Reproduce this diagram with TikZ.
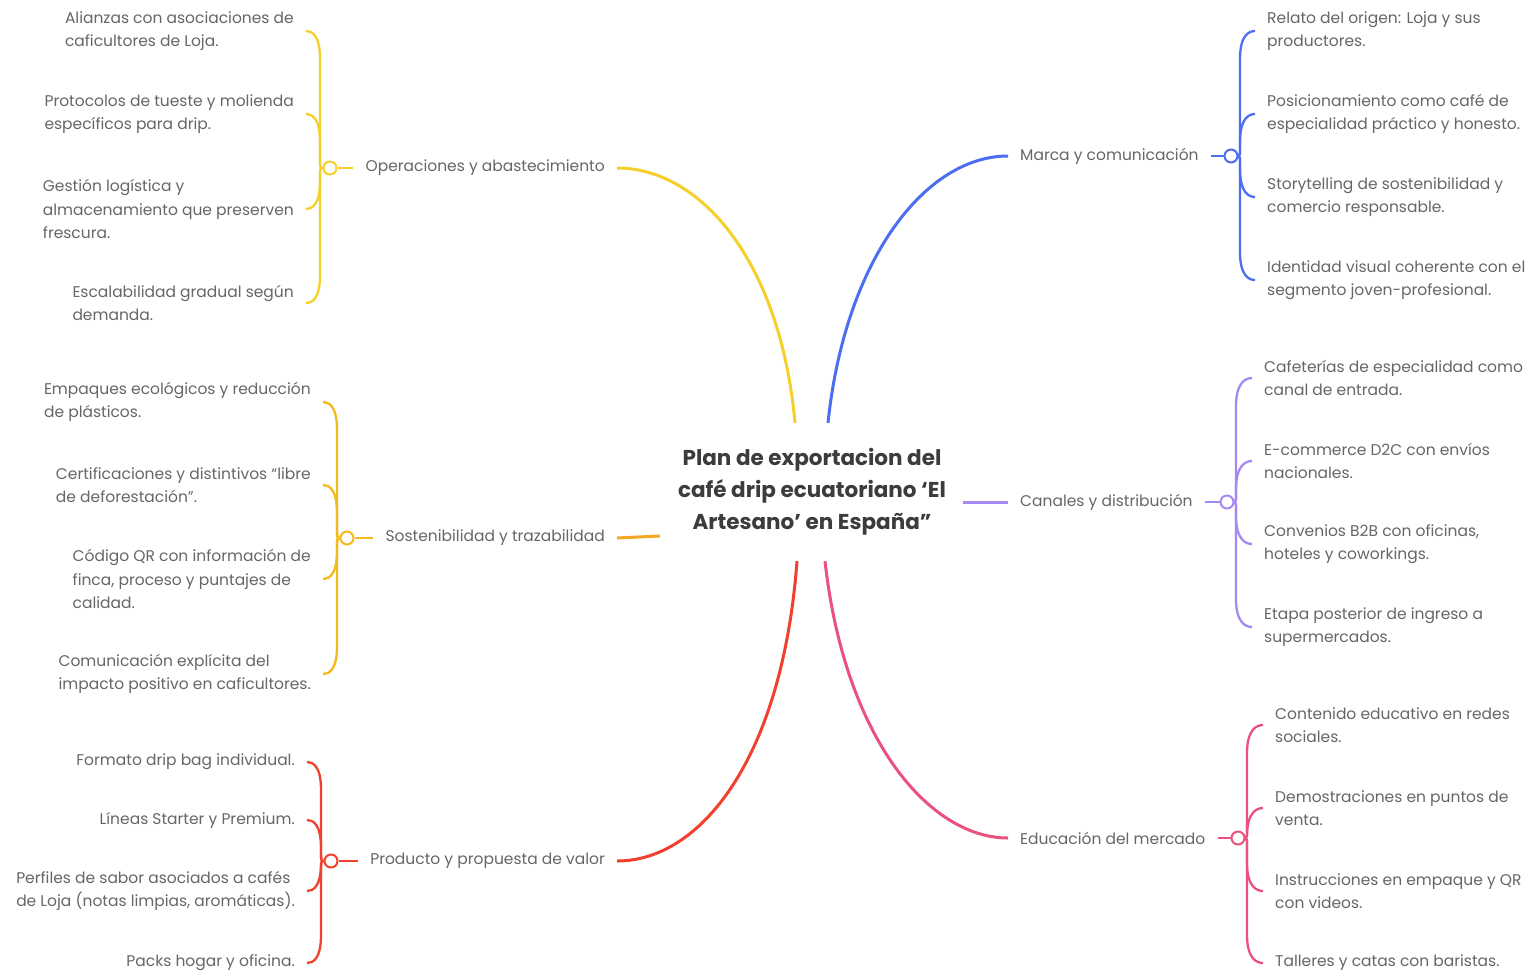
\documentclass[tikz,border=0pt]{standalone}
\usepackage{fontspec}
\setmainfont{Poppins}
\usetikzlibrary{calc}
\definecolor{cyel}{HTML}{F5CF2A}
\definecolor{csos}{HTML}{F2BA1A}
\definecolor{csosc}{HTML}{F5A623}
\definecolor{cred}{HTML}{F2402E}
\definecolor{cblu}{HTML}{4D6EF0}
\definecolor{cpur}{HTML}{A688F2}
\definecolor{cpnk}{HTML}{E9527F}
\definecolor{ctxt}{HTML}{666666}
\definecolor{ctit}{HTML}{3C3C3C}
\newcommand\legL[5]{\draw[#5] (#1.west) .. controls (#2) .. ($(#2)+(0,{(#4)*14})$) -- ($(#2|-#3.east)+(0,{0-(#4)*28})$) .. controls ($(#2|-#3.east)+(0,{0-(#4)*4})$) and ($(#3.east)+(6,0)$) .. (#3.east);}
\newcommand\legR[5]{\draw[#5] (#1.east) .. controls (#2) .. ($(#2)+(0,{(#4)*14})$) -- ($(#2|-#3.west)+(0,{0-(#4)*28})$) .. controls ($(#2|-#3.west)+(0,{0-(#4)*4})$) and ($(#3.west)+(-6,0)$) .. (#3.west);}
\begin{document}
\begin{tikzpicture}[x=1pt,y=-1pt,
  leafL/.style={anchor=east,align=left,inner xsep=12pt,inner ysep=2pt,text=ctxt,font=\fontsize{15.5}{23.5}\selectfont},
  leafR/.style={anchor=west,align=left,inner xsep=12pt,inner ysep=2pt,text=ctxt,font=\fontsize{15.5}{23.5}\selectfont},
  lab/.style={inner xsep=12pt,inner ysep=3pt,text=ctxt,font=\fontsize{15.5}{20}\selectfont},
  knot/.style={circle,draw=#1,fill=white,line width=2pt,minimum size=13pt,inner sep=0pt},
  main/.style={draw=#1,line width=3pt},
  leg/.style={draw=#1,line width=2.3pt},
  title/.style={align=center,text=ctit,font=\fontsize{21.5}{32}\selectfont\bfseries,minimum width=298pt,minimum height=138pt,inner sep=0pt}]
\useasboundingbox[fill=white] (0,0) rectangle (1530,975);

% centre
\node[title] (c) at (812,492) {Plan de exportacion del\\café drip ecuatoriano ‘El\\Artesano’ en España”};
\coordinate (cy) at ([xshift=-17pt]c.north);
\coordinate (cb) at ([xshift=16pt]c.north);
\coordinate (cr) at ([xshift=-15pt]c.south);
\coordinate (cp) at ([xshift=13pt]c.south);
\coordinate (cs) at ($(c.west)+(-3,44)$);
\coordinate (cc) at ($(c.east)+(2,10)$);

% branch labels
\node[lab,anchor=east] (op) at (617,168) {Operaciones y abastecimiento};
\node[lab,anchor=east] (so) at (617,538) {Sostenibilidad y trazabilidad};
\node[lab,anchor=east] (pr) at (617,861) {Producto y propuesta de valor};
\node[lab,anchor=west] (mk) at (1008,156) {Marca y comunicación};
\node[lab,anchor=west] (ca) at (1008,502) {Canales y distribución};
\node[lab,anchor=west] (ed) at (1008,838) {Educación del mercado};

% main connectors
\draw[main=cyel] (cy) .. controls (780,260) and (700,168) .. (op.east);
\draw[main=cblu] (cb) .. controls (845,260) and (925,156) .. (mk.west);
\draw[main=cred] (cr) .. controls (782,760) and (700,861) .. (pr.east);
\draw[main=cpnk] (cp) .. controls (845,740) and (930,838) .. (ed.west);
\draw[main=csosc] (cs) -- (so.east);
\draw[main=cpur] (cc) -- (ca.west);

% knots
\node[knot=cyel] (k1) at (330,168) {};
\node[knot=csos] (k2) at (347,538) {};
\node[knot=cred] (k3) at (331,861) {};
\node[knot=cblu] (k4) at (1231,156) {};
\node[knot=cpur] (k5) at (1227,502) {};
\node[knot=cpnk] (k6) at (1238,838) {};
\draw[leg=cyel] (op.west) -- (k1.east);
\draw[leg=csos] (so.west) -- (k2.east);
\draw[leg=cred] (pr.west) -- (k3.east);
\draw[leg=cblu] (mk.east) -- (k4.west);
\draw[leg=cpur] (ca.east) -- (k5.west);
\draw[leg=cpnk] (ed.east) -- (k6.west);
\coordinate (s1) at (320,168);
\coordinate (s2) at (337,538);
\coordinate (s3) at (321,861);
\coordinate (s4) at (1240,156);
\coordinate (s5) at (1236,502);
\coordinate (s6) at (1247,838);

% leaves: operaciones
\node[leafL] (a1) at (306,31) {Alianzas con asociaciones de\\caficultores de Loja.};
\node[leafL] (a2) at (306,114) {Protocolos de tueste y molienda\\específicos para drip.};
\node[leafL] (a3) at (306,209) {Gestión logística y\\almacenamiento que preserven\\frescura.};
\node[leafL] (a4) at (306,303) {Escalabilidad gradual según\\demanda.};
% sostenibilidad
\node[leafL] (b1) at (323,402) {Empaques ecológicos y reducción\\de plásticos.};
\node[leafL] (b2) at (323,485) {Certificaciones y distintivos “libre\\de deforestación”.};
\node[leafL] (b3) at (323,579) {Código QR con información de\\finca, proceso y puntajes de\\calidad.};
\node[leafL] (b4) at (323,674) {Comunicación explícita del\\impacto positivo en caficultores.};
% producto
\node[leafL] (d1) at (307,762) {Formato drip bag individual.};
\node[leafL] (d2) at (307,820) {Líneas Starter y Premium.};
\node[leafL] (d3) at (307,891) {Perfiles de sabor asociados a cafés\\de Loja (notas limpias, aromáticas).};
\node[leafL] (d4) at (307,963) {Packs hogar y oficina.};
% marca
\node[leafR] (e1) at (1255,31) {Relato del origen: Loja y sus\\productores.};
\node[leafR] (e2) at (1255,114) {Posicionamiento como café de\\especialidad práctico y honesto.};
\node[leafR] (e3) at (1255,197) {Storytelling de sostenibilidad y\\comercio responsable.};
\node[leafR] (e4) at (1255,280) {Identidad visual coherente con el\\segmento joven-profesional.};
% canales
\node[leafR] (f1) at (1252,378) {Cafeterías de especialidad como\\canal de entrada.};
\node[leafR] (f2) at (1252,461) {E-commerce D2C con envíos\\nacionales.};
\node[leafR] (f3) at (1252,544) {Convenios B2B con oficinas,\\hoteles y coworkings.};
\node[leafR] (f4) at (1252,627) {Etapa posterior de ingreso a\\supermercados.};
% educacion
\node[leafR] (g1) at (1263,725) {Contenido educativo en redes\\sociales.};
\node[leafR] (g2) at (1263,808) {Demostraciones en puntos de\\venta.};
\node[leafR] (g3) at (1263,891) {Instrucciones en empaque y QR\\con videos.};
\node[leafR] (g4) at (1263,963) {Talleres y catas con baristas.};

% leaf connectors
\legL{k1}{s1}{a1}{-1}{leg=cyel}
\legL{k1}{s1}{a2}{-1}{leg=cyel}
\legL{k1}{s1}{a3}{1}{leg=cyel}
\legL{k1}{s1}{a4}{1}{leg=cyel}
\legL{k2}{s2}{b1}{-1}{leg=csos}
\legL{k2}{s2}{b2}{-1}{leg=csos}
\legL{k2}{s2}{b3}{1}{leg=csos}
\legL{k2}{s2}{b4}{1}{leg=csos}
\legL{k3}{s3}{d1}{-1}{leg=cred}
\legL{k3}{s3}{d2}{-1}{leg=cred}
\legL{k3}{s3}{d3}{1}{leg=cred}
\legL{k3}{s3}{d4}{1}{leg=cred}
\legR{k4}{s4}{e1}{-1}{leg=cblu}
\legR{k4}{s4}{e2}{-1}{leg=cblu}
\legR{k4}{s4}{e3}{1}{leg=cblu}
\legR{k4}{s4}{e4}{1}{leg=cblu}
\legR{k5}{s5}{f1}{-1}{leg=cpur}
\legR{k5}{s5}{f2}{-1}{leg=cpur}
\legR{k5}{s5}{f3}{1}{leg=cpur}
\legR{k5}{s5}{f4}{1}{leg=cpur}
\legR{k6}{s6}{g1}{-1}{leg=cpnk}
\legR{k6}{s6}{g2}{-1}{leg=cpnk}
\legR{k6}{s6}{g3}{1}{leg=cpnk}
\legR{k6}{s6}{g4}{1}{leg=cpnk}
\end{tikzpicture}
\end{document}
